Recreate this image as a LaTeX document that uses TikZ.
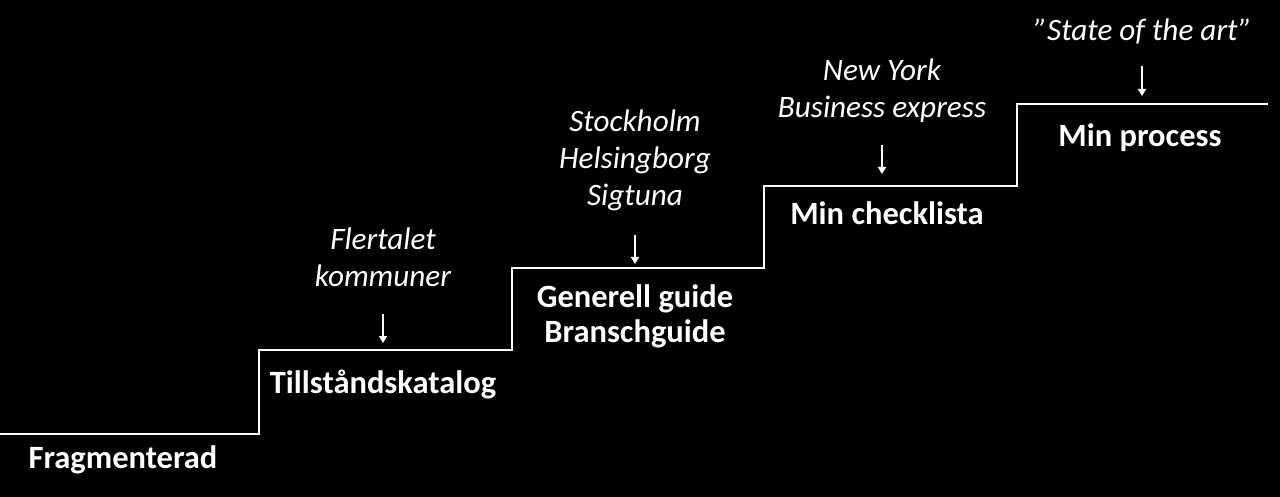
\documentclass[tikz,border=0pt]{standalone}
\usepackage{fontspec}
\setmainfont{Carlito}
\usetikzlibrary{positioning,arrows.meta}

\begin{document}
\begin{tikzpicture}[x=1pt,y=-1pt,
  level/.style={text=white,font=\bfseries\fontsize{32.5}{35}\selectfont,align=center,inner sep=0pt,anchor=base},
  note/.style={text=white,font=\itshape\fontsize{31.2}{37}\selectfont,align=center,inner sep=0pt,anchor=base},
  stair/.style={white,line width=2.5pt},
  hint/.style={white,line width=2.4pt,-{Triangle[width=8pt,length=7pt]}}]
\fill[black] (0,0) rectangle (1280,497);
\useasboundingbox (0,0) rectangle (1280,497);
% the staircase
\draw[stair] (0,434) -| (259,350) -| (512,268) -| (764,186) -| (1017,104) -- (1268,104);
% steps (base = last line)
\node[level] (frag) at (123,468) {Fragmenterad};
\node[level] (katalog) at (383,393) {Tillståndskatalog};
\node[level] (guide) at (635,342) {Generell guide\\Branschguide};
\node[level] (check) at (887,225) {Min checklista};
\node[level] (process) at (1140,147) {Min process};
% examples above each step
\node[note] (flert) at (383,287) {Flertalet\\kommuner};
\node[note] (sthlm) at (635,206) {Stockholm\\Helsingborg\\Sigtuna};
\node[note] (ny) at (882,118) {New York\\Business express};
\node[note] (sota) at (1143,41) {”State of the art”};
% arrows
\coordinate (t1) at (383,314); \coordinate (h1) at (383,343);
\coordinate (t2) at (635,235); \coordinate (h2) at (635,264);
\coordinate (t3) at (882,145); \coordinate (h3) at (882,174);
\coordinate (t4) at (1142,66); \coordinate (h4) at (1142,96);
\draw[hint] (t1) -- (h1);
\draw[hint] (t2) -- (h2);
\draw[hint] (t3) -- (h3);
\draw[hint] (t4) -- (h4);
\end{tikzpicture}
\end{document}
